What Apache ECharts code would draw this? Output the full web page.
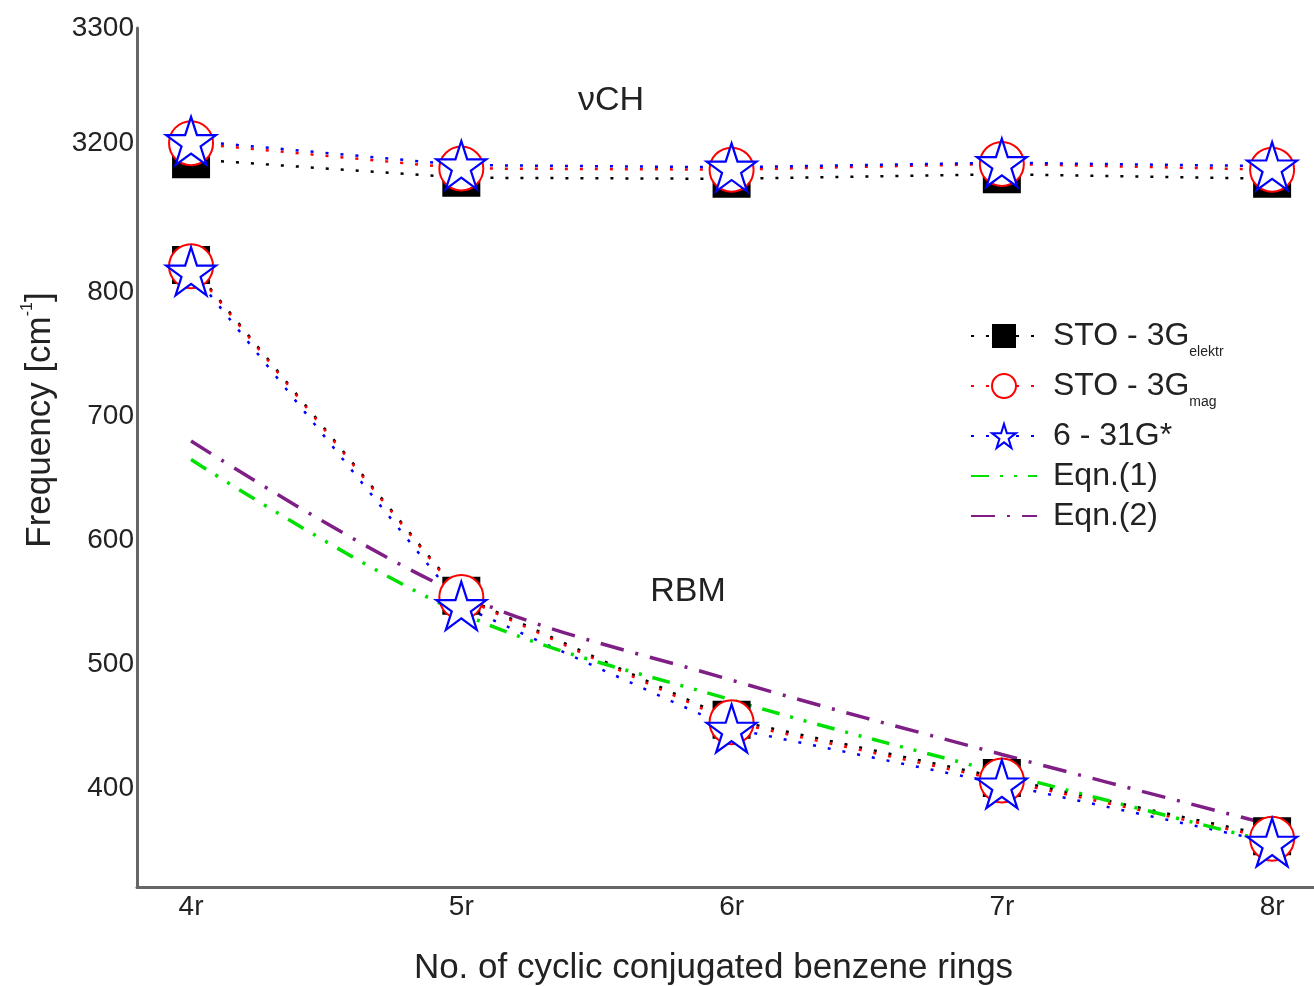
<!DOCTYPE html>
<html>
<head>
<meta charset="utf-8">
<style>
  html, body { margin: 0; padding: 0; background: #fff; }
  #chart-container { width: 1314px; height: 986px; }
</style>
<script src="https://cdn.jsdelivr.net/npm/echarts@6/dist/echarts.min.js"></script>
</head>
<body>
<div id="chart-container"></div>
<script>
const ringLabels = ['4r', '5r', '6r', '7r', '8r'];
const ringCounts = [4, 5, 6, 7, 8];

const seriesNames = ['STO - 3G elektr', 'STO - 3G mag', '6 - 31G*', 'Eqn.(1)', 'Eqn.(2)'];

// vCH band (upper part of the broken axis)
const vchElektr = [3186, 3170, 3169, 3173, 3169];
const vchMag = [3200, 3178, 3177, 3182, 3177];
const vch631 = [3202, 3181, 3179, 3183, 3180];

// RBM band (lower part)
const rbmElektr = [822, 555, 455, 408, 361];
const rbmMag = [821, 554, 453, 406, 359];
const rbm631 = [817, 547, 448, 403, 356];
const rbmEqn1 = [665, 541, 471, 412, 356];
const rbmEqn2 = [680, 556, 487, 427, 370];

const upperTicks = [3200, 3300];
const lowerTicks = [400, 500, 600, 700, 800];

const FONT = 'Liberation Sans';
const TEXT = '#222';
const AXIS = '#666';
const STAR = 'path://M100,0L122.45,69.1L195.1,69.1L136.33,111.8L158.8,180.9L100,138.2L41.2,180.9L63.67,111.8L4.9,69.1L77.55,69.1Z';
const DOTS = [3, 12];

const pairs = (vals) => ringCounts.map((n, i) => [n, vals[i]]);

const styles = {
  elektr: {
    symbol: 'rect',
    symbolSize: 38,
    itemStyle: { color: '#000', borderWidth: 0 },
    lineStyle: { color: '#000', width: 2.5, type: DOTS },
  },
  mag: {
    symbol: 'circle',
    symbolSize: 44,
    itemStyle: { color: '#fff', borderColor: '#f00', borderWidth: 2 },
    lineStyle: { color: '#f00', width: 2.5, type: DOTS },
  },
  star: {
    symbol: STAR,
    symbolSize: [50, 48],
    itemStyle: { color: '#fff', borderColor: '#00f', borderWidth: 2.2 },
    lineStyle: { color: '#00f', width: 2.5, type: DOTS },
  },
};

const markerSeries = (name, style, vals, idx) => ({
  name: name,
  type: 'line',
  xAxisIndex: idx,
  yAxisIndex: idx,
  data: pairs(vals),
  symbol: style.symbol,
  symbolSize: style.symbolSize,
  itemStyle: style.itemStyle,
  lineStyle: style.lineStyle,
  emphasis: { disabled: true },
});

const eqnSeries = (name, color, dash, vals) => ({
  name: name,
  type: 'line',
  xAxisIndex: 1,
  yAxisIndex: 1,
  data: pairs(vals),
  symbol: 'none',
  smooth: 0.35,
  z: 3,
  itemStyle: { color: color },
  lineStyle: { color: color, width: 3.5, type: dash },
  emphasis: { disabled: true },
});

const legendFormatter = (name) => {
  if (name.indexOf('STO') === 0) {
    const cut = name.lastIndexOf(' ');
    return '{n|' + name.slice(0, cut) + '}{s|' + name.slice(cut + 1) + '}';
  }
  return name;
};

// one legend per row so the rows sit where the reference has them
const legendTops = [313, 363, 420, 460, 500];
const legends = seriesNames.map((name, i) => ({
  data: [name],
  orient: 'vertical',
  left: 970,
  top: legendTops[i],
  padding: 0,
  itemWidth: 66,
  itemHeight: 30,
  selectedMode: false,
  formatter: legendFormatter,
  itemStyle: i > 2 ? { opacity: 0 } : {},
  textStyle: {
    fontFamily: FONT,
    fontSize: 32,
    color: TEXT,
    lineHeight: 30,
    padding: [0, 0, 0, 11],
    rich: {
      n: { fontFamily: FONT, fontSize: 32, color: TEXT, verticalAlign: 'middle' },
      s: { fontFamily: FONT, fontSize: 14, color: TEXT, lineHeight: 46, verticalAlign: 'bottom' },
    },
  },
}));

const axisLabelStyle = { fontFamily: FONT, fontSize: 28, color: TEXT };

const initChart = () => {
  const dom = document.getElementById('chart-container');
  return echarts.init(dom, null, { renderer: 'canvas' });
};

const chart = initChart();

chart.setOption({
  animation: false,
  backgroundColor: '#fff',
  legend: legends,
  grid: [
    { left: 137, right: 0, top: 28, height: 190, outerBoundsMode: 'none' },
    { left: 137, right: 0, top: 218, bottom: 99, outerBoundsMode: 'none' },
  ],
  xAxis: [
    { gridIndex: 0, type: 'value', min: 3.8, max: 8.155, show: false },
    {
      gridIndex: 1,
      type: 'value',
      min: 3.8,
      max: 8.155,
      splitLine: { show: false },
      axisTick: { show: false },
      axisLine: { onZero: false, lineStyle: { color: AXIS, width: 3 } },
      axisLabel: Object.assign({
        customValues: ringCounts,
        margin: 6,
        formatter: (v) => ringLabels[ringCounts.indexOf(v)],
      }, axisLabelStyle),
      name: 'No. of cyclic conjugated benzene rings',
      nameLocation: 'middle',
      nameGap: 64,
      nameTextStyle: { fontFamily: FONT, fontSize: 35, color: TEXT, padding: [0, 24, 0, 0] },
    },
  ],
  yAxis: [
    {
      gridIndex: 0,
      type: 'value',
      min: 3135,
      max: 3300,
      splitLine: { show: false },
      axisTick: { show: false },
      axisLine: { show: true, onZero: false, lineStyle: { color: AXIS, width: 3 } },
      axisLabel: Object.assign({ customValues: upperTicks, margin: 3, formatter: (v) => String(v) }, axisLabelStyle),
    },
    {
      gridIndex: 1,
      type: 'value',
      min: 320,
      max: 860,
      splitLine: { show: false },
      axisTick: { show: false },
      axisLine: { show: true, onZero: false, lineStyle: { color: AXIS, width: 3 } },
      axisLabel: Object.assign({ customValues: lowerTicks, margin: 3, formatter: (v) => String(v) }, axisLabelStyle),
    },
  ],
  graphic: [
    {
      type: 'text', x: 611, y: 101,
      style: { text: 'νCH', fontFamily: FONT, fontSize: 34, fill: TEXT, align: 'center', verticalAlign: 'middle' },
    },
    {
      type: 'text', x: 688, y: 592,
      style: { text: 'RBM', fontFamily: FONT, fontSize: 34, fill: TEXT, align: 'center', verticalAlign: 'middle' },
    },
    {
      type: 'text', x: 40, y: 420, rotation: Math.PI / 2,
      style: {
        text: 'Frequency [cm{sup|-1}]',
        fontFamily: FONT,
        fontSize: 35,
        fill: TEXT,
        align: 'center',
        verticalAlign: 'middle',
        rich: {
          sup: { fontFamily: FONT, fontSize: 16, fill: TEXT, lineHeight: 40, verticalAlign: 'top' },
        },
      },
    },
  ],
  series: [
    markerSeries(seriesNames[0], styles.elektr, vchElektr, 0),
    markerSeries(seriesNames[0], styles.elektr, rbmElektr, 1),
    markerSeries(seriesNames[1], styles.mag, vchMag, 0),
    markerSeries(seriesNames[1], styles.mag, rbmMag, 1),
    markerSeries(seriesNames[2], styles.star, vch631, 0),
    markerSeries(seriesNames[2], styles.star, rbm631, 1),
    eqnSeries(seriesNames[3], '#00e000', [18, 11, 3, 11, 3, 11], rbmEqn1),
    eqnSeries(seriesNames[4], '#7f1f86', [24, 12, 3, 12], rbmEqn2),
  ],
});

window.addEventListener('resize', chart.resize);
</script>
</body>
</html>
